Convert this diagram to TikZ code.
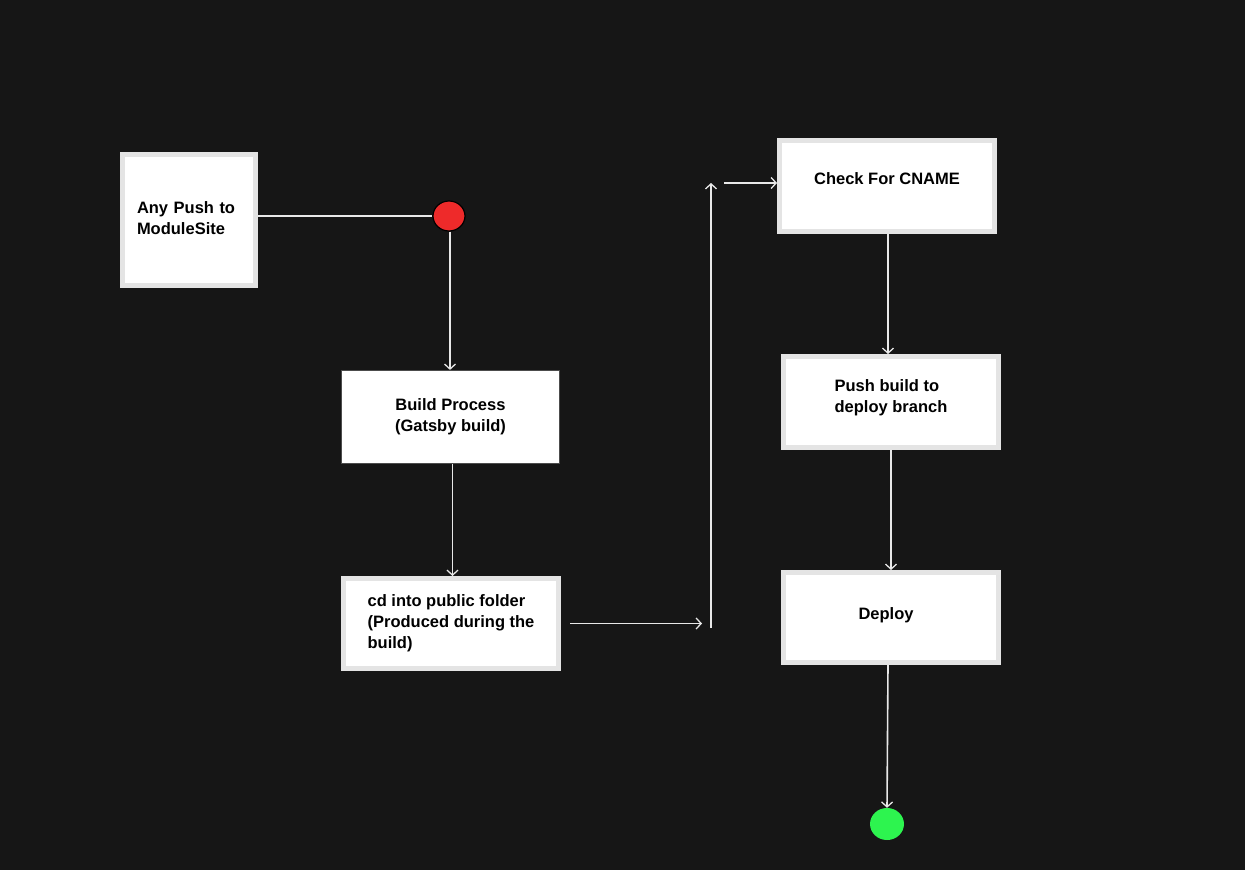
\documentclass[tikz,border=0pt]{standalone}
\usepackage{fontspec}
\setmainfont{Liberation Sans}
\usepackage{xcolor}
\usetikzlibrary{positioning,shapes,arrows,arrows.meta}

\definecolor{bgdark}{HTML}{161616}
\definecolor{boxedge}{HTML}{E4E4E4}
\definecolor{flowline}{HTML}{E8E8E8}
\definecolor{startred}{HTML}{EE2A2A}
\definecolor{endgreen}{HTML}{2DF44F}

\begin{document}
\begin{tikzpicture}[x=1pt,y=-1pt]
\tikzstyle{every node}+=[inner sep=0pt, font=\bfseries\fontsize{16.5}{21}\selectfont]
\tikzstyle{stepbox}=[draw=boxedge, line width=5pt, fill=white, text=black]
\tikzstyle{thinbox}=[draw=black!70, line width=1.2pt, fill=white, text=black]
\tikzstyle{flow}=[draw=flowline, line width=1.6pt, -{Straight Barb[length=5pt,width=11pt,line width=1.3pt]}]
\fill [bgdark] (0,0) rectangle (1245,870);
\useasboundingbox (0,0) rectangle (1245,870);
% boxes
\node [stepbox, minimum width=133, minimum height=131, align=left, text width=104, text height=10, text depth=24] (anypush) at (189,220) {Any Push to\\ModuleSite};
\node [thinbox, minimum width=218, minimum height=93, align=center] (build) at (450.5,417) {Build Process\\(Gatsby build)};
\node [stepbox, minimum width=215, minimum height=90, align=left] (publicdir) at (451,623.5) {cd into public folder\\(Produced during the\\build)};
\node [stepbox, minimum width=215, minimum height=91, align=center, text height=12, text depth=16] (cname) at (887,186) {Check For CNAME};
\node [stepbox, minimum width=215, minimum height=91, align=left, text height=33, text depth=12] (pushbuild) at (891,402) {Push build to\\deploy branch};
\node [stepbox, minimum width=215, minimum height=90, align=left, text width=195, text height=12, text depth=8] (deploy) at (891,617.5) {\hspace*{65pt}Deploy};
% start and end
\node [ellipse, draw=black, line width=1.2pt, fill=startred, minimum width=32, minimum height=30] (start) at (449,216) {};
\node [ellipse, fill=endgreen, minimum width=34, minimum height=32] (done) at (887,824) {};
\coordinate (turnlow) at (711,628);
\coordinate (turnhigh) at (711,183);
% connectors
\draw [draw=flowline, line width=1.6pt] (anypush.east |- start.west) -- (start.west);
\draw [flow] ([xshift=1]start.south) -- ([xshift=1]start.south |- build.north);
\draw [flow] ([xshift=2]build.south) -- ([xshift=2]build.south |- publicdir.north);
\draw [flow] ([xshift=9]publicdir.east) -- ([xshift=-9]turnlow |- publicdir.east);
\draw [flow] (turnlow) -- (turnhigh);
\draw [flow] ([xshift=13]turnhigh) -- (cname.west |- turnhigh);
\draw [flow] ([xshift=1]cname.south) -- ([xshift=1]cname.south |- pushbuild.north);
\draw [flow] (pushbuild.south) -- (deploy.north);
\draw [flow] ([xshift=-3]deploy.south) -- (done.north);
\end{tikzpicture}
\end{document}
